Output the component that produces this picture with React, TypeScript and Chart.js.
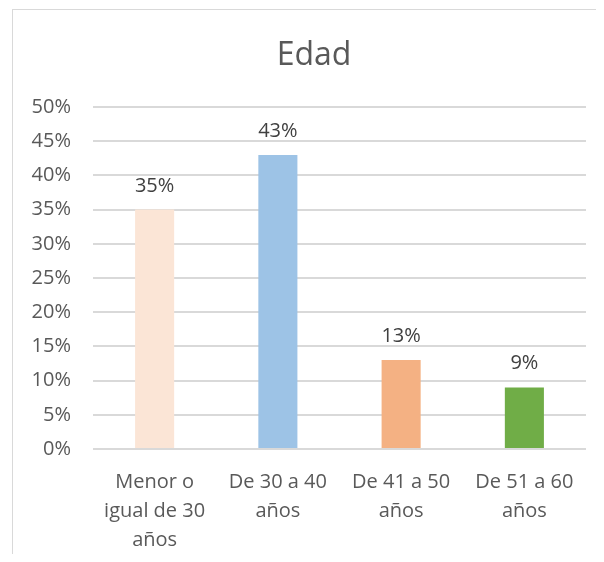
import React, { useEffect, useRef } from "react";
import { Chart, registerables } from "chart.js";

Chart.register(...registerables);

const title = "Edad";
const categories: string[][] = [
  ["Menor o", "igual de 30", "años"],
  ["De 30 a 40", "años"],
  ["De 41 a 50", "años"],
  ["De 51 a 60", "años"],
];
const values = [35, 43, 13, 9];
const barColors = ["#FBE5D6", "#9DC3E6", "#F4B183", "#70AD47"];
const yMin = 0;
const yMax = 50;
const yStep = 5;

const FONT = "'Open Sans', 'Noto Sans', sans-serif";

const decorPlugin = {
  id: "decor",
  beforeDraw(chart: any) {
    const ctx = chart.ctx;
    ctx.save();
    ctx.fillStyle = "#FFFFFF";
    ctx.fillRect(0, 0, chart.width, chart.height);
    ctx.strokeStyle = "#D9D9D9";
    ctx.lineWidth = 1;
    ctx.strokeRect(12.5, 9.5, chart.width + 50, chart.height + 50);
    ctx.restore();
  },
  afterDraw(chart: any) {
    const ctx = chart.ctx;
    ctx.save();
    ctx.font = `32px ${FONT}`;
    ctx.fillStyle = "#595959";
    ctx.textAlign = "center";
    ctx.textBaseline = "alphabetic";
    ctx.fillText(title, 314, 65);

    ctx.font = `20px ${FONT}`;
    ctx.fillStyle = "#404040";
    const meta = chart.getDatasetMeta(0);
    meta.data.forEach((bar: any, i: number) => {
      ctx.fillText(`${values[i]}%`, bar.x, bar.y - 18);
    });
    ctx.restore();
  },
};

export default function App() {
  const ref = useRef<HTMLCanvasElement | null>(null);
  useEffect(() => {
    if (!ref.current) return;
    const chart = new Chart(ref.current, {
      type: "bar",
      data: {
        labels: categories,
        datasets: [
          {
            data: values,
            backgroundColor: barColors,
            borderWidth: 0,
            categoryPercentage: 1,
            barPercentage: 0.317,
          },
        ],
      },
      options: {
        animation: false,
        responsive: false,
        devicePixelRatio: 1,
        layout: { padding: { top: 107, right: 18, bottom: 0, left: 0 } },
        plugins: {
          legend: { display: false },
          title: { display: false },
          tooltip: { enabled: false },
        },
        scales: {
          x: {
            grid: { display: false, drawTicks: false },
            border: { display: false },
            ticks: {
              padding: 19,
              color: "#595959",
              font: { family: FONT, size: 20, lineHeight: 1.45 },
              maxRotation: 0,
              autoSkip: false,
            },
            afterFit: (s: any) => {
              s.height = 113;
            },
          },
          y: {
            min: yMin,
            max: yMax,
            grid: { color: "#D9D9D9", lineWidth: 2, drawTicks: false },
            border: { display: false },
            ticks: {
              stepSize: yStep,
              padding: 22,
              color: "#595959",
              font: { family: FONT, size: 20 },
              callback: (v: any) => `${v}%`,
            },
            afterFit: (s: any) => {
              s.width = 93;
            },
          },
        },
      },
      plugins: [decorPlugin],
    });
    return () => chart.destroy();
  }, []);
  return (
    <div style={{ margin: -8, width: 604, height: 562, overflow: "hidden", position: "relative" }}>
      <canvas ref={ref} width={604} height={562} style={{ display: "block" }} />
    </div>
  );
}
